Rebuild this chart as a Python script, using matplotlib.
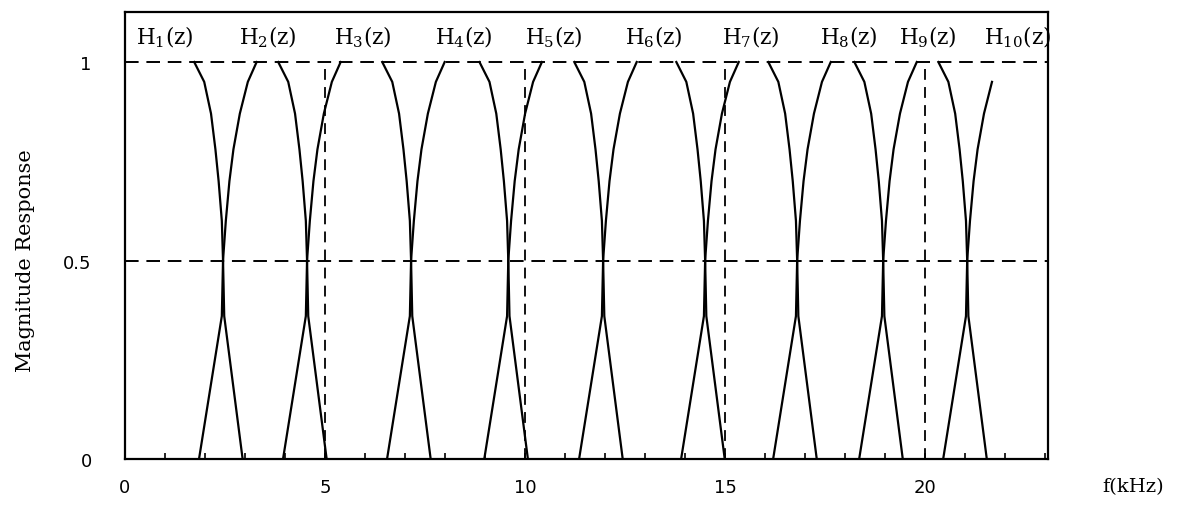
import numpy as np
import matplotlib
matplotlib.use("Agg")
import matplotlib.pyplot as plt
from matplotlib.ticker import MultipleLocator

# Crossover frequencies (kHz) where neighbouring bands meet at 0.5
crossovers = [2.45, 4.55, 7.15, 9.58, 11.95, 14.50, 16.80, 18.95, 21.05]

# Edge shape: magnitude levels and the
# frequency offset (kHz) from the crossover at each level
edge_mag = [1.0, 0.95, 0.87, 0.78, 0.70, 0.60, 0.5, 0.36, 0.0]
fall_offset = [-0.72, -0.47, -0.30, -0.19, -0.11, -0.03, 0.0, 0.03, 0.49]
rise_offset = [0.84, 0.62, 0.42, 0.26, 0.16, 0.07, 0.0, -0.03, -0.60]

band_names = [r"$\mathrm{H_{%d}(z)}$" % k for k in range(1, 11)]
label_pos = [1.0, 3.57, 5.94, 8.48, 10.72, 13.22, 15.64, 18.08, 20.07, 22.32]

grid_freqs = [5, 10, 15, 20]
ref_levels = [1.0, 0.5]

plt.rcParams["mathtext.fontset"] = "dejavuserif"

fig = plt.figure(figsize=(11.78, 5.06), dpi=100)
ax = fig.add_axes([125 / 1178, 46 / 506, 923 / 1178, 447 / 506])

lw = 1.6
# falling edge of each band (H1..H9)
for c in crossovers:
    ax.plot(c + np.array(fall_offset), edge_mag, color="black", lw=lw)
# rising edge of each band (H2..H10); H10 stops just below 1
for i, c in enumerate(crossovers):
    if i == len(crossovers) - 1:
        ax.plot(c + np.array(rise_offset[1:]), edge_mag[1:], color="black", lw=lw)
    else:
        ax.plot(c + np.array(rise_offset), edge_mag, color="black", lw=lw)

for lvl in ref_levels:
    ax.axhline(lvl, color="black", lw=1.4, dashes=(7, 4))
for f in grid_freqs:
    ax.plot([f, f], [0, 1], color="black", lw=1.3, dashes=(6, 4))

for name, x in zip(band_names, label_pos):
    ax.text(x, 1.065, name, ha="center", va="center", fontsize=15.5,
            family="DejaVu Serif")

ax.set_xlim(0, 23.07)
ax.set_ylim(0, 1.126)
ax.set_xticks([0, 5, 10, 15, 20])
ax.xaxis.set_minor_locator(MultipleLocator(1))
ax.set_yticks([0, 0.5, 1])
ax.set_yticklabels(["0", "0.5", "1"])
ax.tick_params(axis="x", which="both", direction="in", length=4, width=1.2,
               pad=14, labelsize=13)
ax.tick_params(axis="y", length=0, pad=24, labelsize=13)
for s in ax.spines.values():
    s.set_linewidth(1.6)

ax.set_ylabel("Magnitude Response", fontsize=15, family="DejaVu Serif")
ax.yaxis.set_label_coords(-0.098, 0.447)
ax.text(1.092, -0.06, "f(kHz)", transform=ax.transAxes, ha="center",
        va="center", fontsize=14, family="DejaVu Serif")

fig.savefig("out.png", dpi=100)
